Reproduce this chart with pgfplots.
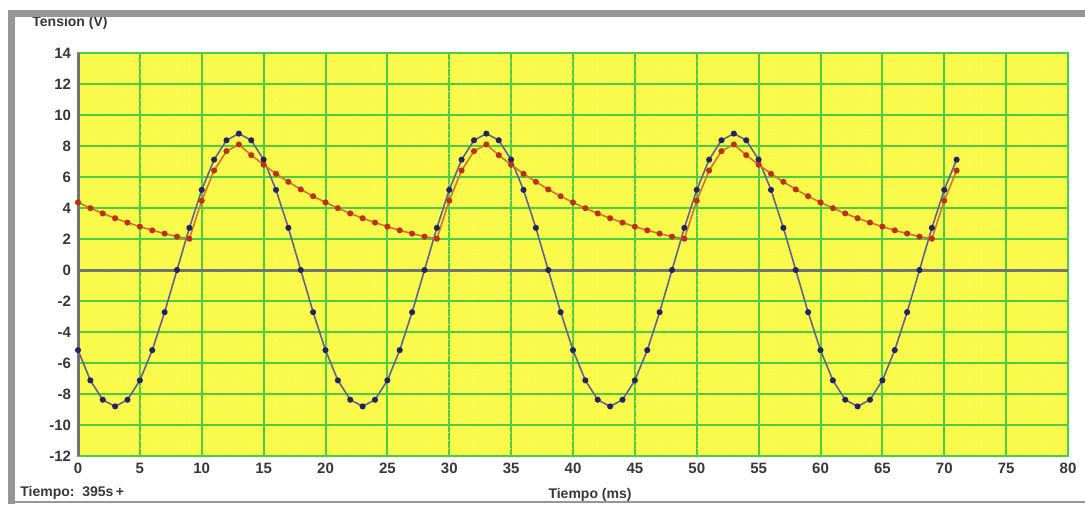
\documentclass[border=0pt]{standalone}
\usepackage{fontspec}
\setmainfont{Liberation Sans}
\usepackage{pgfplots}
\pgfplotsset{compat=1.18}
\usepackage{pgfplotstable}

\definecolor{bgyellow}{RGB}{250,250,75}
\definecolor{gridgreen}{RGB}{75,205,70}
\definecolor{framegray}{RGB}{150,150,150}
\definecolor{axgray}{RGB}{115,115,115}
\definecolor{labgray}{RGB}{55,55,55}
\definecolor{navy}{RGB}{35,35,100}
\definecolor{blueline}{RGB}{95,100,145}
\definecolor{redmark}{RGB}{190,50,20}
\definecolor{redline}{RGB}{215,115,50}

% t (ms), input sine (V), filtered output (V)
\pgfplotstableread{
t  vin    vout
0  -5.17  4.36
1  -7.12  3.99
2  -8.37  3.65
3  -8.80  3.34
4  -8.37  3.06
5  -7.12  2.80
6  -5.17  2.56
7  -2.72  2.35
8   0.00  2.15
9   2.72  2.02
10  5.17  4.47
11  7.12  6.42
12  8.37  7.67
13  8.80  8.10
14  8.37  7.41
15  7.12  6.79
16  5.17  6.21
17  2.72  5.69
18  0.00  5.20
19 -2.72  4.76
20 -5.17  4.36
21 -7.12  3.99
22 -8.37  3.65
23 -8.80  3.34
24 -8.37  3.06
25 -7.12  2.80
26 -5.17  2.56
27 -2.72  2.35
28  0.00  2.15
29  2.72  2.02
30  5.17  4.47
31  7.12  6.42
32  8.37  7.67
33  8.80  8.10
34  8.37  7.41
35  7.12  6.79
36  5.17  6.21
37  2.72  5.69
38  0.00  5.20
39 -2.72  4.76
40 -5.17  4.36
41 -7.12  3.99
42 -8.37  3.65
43 -8.80  3.34
44 -8.37  3.06
45 -7.12  2.80
46 -5.17  2.56
47 -2.72  2.35
48  0.00  2.15
49  2.72  2.02
50  5.17  4.47
51  7.12  6.42
52  8.37  7.67
53  8.80  8.10
54  8.37  7.41
55  7.12  6.79
56  5.17  6.21
57  2.72  5.69
58  0.00  5.20
59 -2.72  4.76
60 -5.17  4.36
61 -7.12  3.99
62 -8.37  3.65
63 -8.80  3.34
64 -8.37  3.06
65 -7.12  2.80
66 -5.17  2.56
67 -2.72  2.35
68  0.00  2.15
69  2.72  2.02
70  5.17  4.47
71  7.12  6.42
}\datatable

\begin{document}
\begin{tikzpicture}
\useasboundingbox (0,0) rectangle (542.5pt,-252pt);
\begin{axis}[
    at={(39pt,-228pt)}, anchor=south west,
    width=495pt, height=201.5pt, scale only axis,
    xmin=0, xmax=80, ymin=-12, ymax=14,
    xtick={0,5,...,80}, ytick={-12,-10,...,14},
    minor x tick num=4, minor y tick num=3,
    grid=both,
    major grid style={gridgreen, line width=1pt},
    minor grid style={white!20!bgyellow, dotted, line width=0.6pt},
    axis background/.style={fill=bgyellow},
    axis line style={gridgreen, line width=1pt},
    major tick length=0pt, minor tick length=0pt,
    /pgf/number format/assume math mode=true,
    tick label style={font=\fontsize{7.5}{8}\selectfont\bfseries, text=labgray},
    extra x ticks={0}, extra x tick labels={},
    extra y ticks={0}, extra y tick labels={},
    extra tick style={major grid style={axgray, line width=1.5pt}},
]
\addplot[blueline, line width=0.8pt, mark=*, mark size=1.1pt,
    mark options={navy, fill=navy}] table[x=t, y=vin] {\datatable};
\addplot[redline, line width=0.8pt, mark=*, mark size=1.1pt,
    mark options={redmark, fill=redmark}] table[x=t, y=vout] {\datatable};
\end{axis}
\node[anchor=west, font=\fontsize{7}{8}\selectfont\bfseries, text=labgray, inner sep=0pt] at (16pt,-11.5pt) {Tension (V)};
\node[anchor=west, font=\fontsize{7}{8}\selectfont\bfseries, text=labgray, inner sep=0pt] at (10pt,-246.5pt) {Tiempo:\ \ 395s\,+};
\node[font=\fontsize{7}{8}\selectfont\bfseries, text=labgray, inner sep=0pt] at (295pt,-247.5pt) {Tiempo (ms)};
\draw[framegray, line width=0.8pt] (5pt,-251pt) -- (542.5pt,-251pt);
\draw[framegray, line width=3.5pt] (5.5pt,-252pt) -- (5.5pt,-6.75pt) -- (542.5pt,-6.75pt);
\end{tikzpicture}
\end{document}
